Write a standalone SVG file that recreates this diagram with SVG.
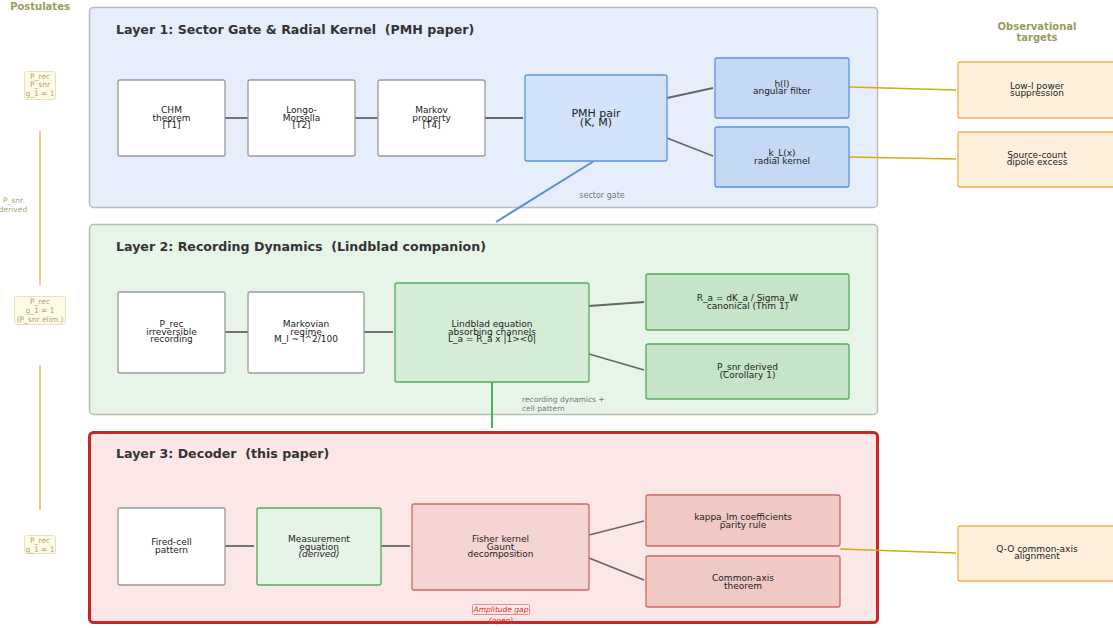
<svg xmlns="http://www.w3.org/2000/svg" width="1113" height="628" viewBox="0 0 1113 628">
<style>
text{font-family:"DejaVu Sans","Liberation Sans",sans-serif;fill:#222;}
.t{font-size:9px;text-anchor:middle;}
.title{font-size:12.6px;font-weight:bold;fill:#333;white-space:pre;}
.hdr{font-size:10px;font-weight:bold;fill:#9a9a62;text-anchor:middle;}
.post{font-size:7.5px;fill:#a8a878;text-anchor:middle;}
.small{font-size:8px;fill:#777;}
.plain{fill:#fff;stroke:#9a9a9a;stroke-width:1.3;}
.blue{fill:#d3e2fb;stroke:#5d93dc;stroke-width:1.3;}
.blue2{fill:#c5d9f5;stroke:#5d93dc;stroke-width:1.3;}
.green{fill:#d5edd7;stroke:#55aa5a;stroke-width:1.3;}
.green2{fill:#c6e5c8;stroke:#55aa5a;stroke-width:1.3;}
.green3{fill:#e6f4e6;stroke:#55aa5a;stroke-width:1.3;}
.red{fill:#f5d5d3;stroke:#d26666;stroke-width:1.3;}
.red2{fill:#f0c9c5;stroke:#d26666;stroke-width:1.3;}
.obs{fill:#fef0dc;stroke:#f0b050;stroke-width:1.3;}
.pbox{fill:#fefbe4;stroke:#e8e2bc;stroke-width:1;}
.c{stroke:#666;stroke-width:1.8;fill:none;}
.g{stroke:#d4ac10;stroke-width:1.5;fill:none;}
.y{stroke:#d8c050;stroke-width:1.5;fill:none;}
</style>

<!-- Layers -->
<g id="layer1"><rect x="89.5" y="7.5" width="788" height="200" rx="4" fill="#e7eefb" stroke="#bbbbbb" stroke-width="1.5"/>
<text class="title" x="116" y="34" xml:space="preserve">Layer 1: Sector Gate &amp; Radial Kernel  (PMH paper)</text></g>
<g id="layer2"><rect x="89.5" y="224.5" width="788" height="190" rx="4" fill="#e7f4e8" stroke="#bbbbbb" stroke-width="1.5"/>
<text class="title" x="116" y="251" xml:space="preserve">Layer 2: Recording Dynamics  (Lindblad companion)</text></g>
<g id="layer3"><rect x="89.5" y="432.5" width="788" height="190" rx="4" fill="#fce7e7" stroke="#c62828" stroke-width="3"/>
<text class="title" x="116" y="458" xml:space="preserve">Layer 3: Decoder  (this paper)</text></g>

<!-- Headers -->
<text class="hdr" x="40" y="10">Postulates</text>
<text class="hdr" x="1037" y="30">Observational</text>
<text class="hdr" x="1037" y="41">targets</text>

<!-- Connectors -->
<g id="connectors">
<line class="c" x1="225" y1="118" x2="248" y2="118"/>
<line class="c" x1="355" y1="118" x2="378" y2="118"/>
<line class="c" x1="485" y1="118" x2="523" y2="118"/>
<line class="c" x1="667" y1="98" x2="713" y2="88"/>
<line class="c" x1="667" y1="138" x2="713" y2="156"/>
<line x1="594" y1="161" x2="496" y2="222" stroke="#5b8fdc" stroke-width="2"/>
<line class="g" x1="849" y1="87" x2="956" y2="90"/>
<line class="g" x1="849" y1="157" x2="956" y2="159"/>

<line class="c" x1="225" y1="332" x2="248" y2="332"/>
<line class="c" x1="364" y1="332" x2="393" y2="332"/>
<line class="c" x1="589" y1="306" x2="644" y2="302"/>
<line class="c" x1="589" y1="354" x2="644" y2="370"/>
<line x1="492" y1="382" x2="492" y2="428" stroke="#4caf50" stroke-width="2"/>

<line class="c" x1="225" y1="546" x2="254" y2="546"/>
<line class="c" x1="381" y1="546" x2="410" y2="546"/>
<line class="c" x1="589" y1="535" x2="644" y2="521"/>
<line class="c" x1="589" y1="558" x2="644" y2="580"/>
<line class="g" x1="840" y1="549" x2="956" y2="553"/>

<line class="y" x1="40" y1="131" x2="40" y2="285"/>
<line class="y" x1="40" y1="365" x2="40" y2="510"/>
</g>
<text class="small" x="602" y="198" text-anchor="middle">sector gate</text>
<text class="small" x="522" y="402" style="font-size:7.5px">recording dynamics +</text>
<text class="small" x="522" y="411" style="font-size:7.5px">cell pattern</text>
<text class="post" x="13" y="203">P_snr</text>
<text class="post" x="13" y="212">derived</text>

<!-- Layer 1 nodes -->
<g id="chm"><rect class="plain" x="118" y="80" width="107" height="76" rx="2"/>
<text class="t" x="171.5" y="113">CHM</text><text class="t" x="171.5" y="120.5">theorem</text><text class="t" x="171.5" y="128">[T1]</text></g>
<g id="longo"><rect class="plain" x="248" y="80" width="107" height="76" rx="2"/>
<text class="t" x="301.5" y="113">Longo-</text><text class="t" x="301.5" y="120.5">Morsella</text><text class="t" x="301.5" y="128">[T2]</text></g>
<g id="markov"><rect class="plain" x="378" y="80" width="107" height="76" rx="2"/>
<text class="t" x="431.5" y="113">Markov</text><text class="t" x="431.5" y="120.5">property</text><text class="t" x="431.5" y="128">[T4]</text></g>
<g id="pmh"><rect class="blue" x="525" y="75" width="142" height="86" rx="2"/>
<text class="t" x="596" y="117" style="font-size:11px">PMH pair</text><text class="t" x="596" y="125.5" style="font-size:11px">(K, M)</text></g>
<g id="hl"><rect class="blue2" x="715" y="58" width="134" height="60" rx="2"/>
<text class="t" x="782" y="86.5">h(l)</text><text class="t" x="782" y="94">angular filter</text></g>
<g id="kl"><rect class="blue2" x="715" y="127" width="134" height="60" rx="2"/>
<text class="t" x="782" y="156">k_L(x)</text><text class="t" x="782" y="163.5">radial kernel</text></g>

<!-- Layer 2 nodes -->
<g id="prec"><rect class="plain" x="118" y="292" width="107" height="81" rx="2"/>
<text class="t" x="171.5" y="327">P_rec</text><text class="t" x="171.5" y="334.5">irreversible</text><text class="t" x="171.5" y="342">recording</text></g>
<g id="markovian"><rect class="plain" x="248" y="292" width="116" height="81" rx="2"/>
<text class="t" x="306" y="327">Markovian</text><text class="t" x="306" y="334.5">regime</text><text class="t" x="306" y="342">M_l ~ l^2/100</text></g>
<g id="lindblad"><rect class="green" x="395" y="283" width="194" height="99" rx="2"/>
<text class="t" x="492" y="327">Lindblad equation</text><text class="t" x="492" y="334.5">absorbing channels</text><text class="t" x="492" y="342">L_a = R_a x |1&gt;&lt;0|</text></g>
<g id="ra"><rect class="green2" x="646" y="274" width="203" height="56" rx="2"/>
<text class="t" x="747.5" y="301">R_a = dK_a / Sigma_W</text><text class="t" x="747.5" y="308.5">canonical (Thm 1)</text></g>
<g id="psnr"><rect class="green2" x="646" y="344" width="203" height="55" rx="2"/>
<text class="t" x="747.5" y="370">P_snr derived</text><text class="t" x="747.5" y="377.5">(Corollary 1)</text></g>

<!-- Layer 3 nodes -->
<g id="fired"><rect class="plain" x="118" y="508" width="107" height="77" rx="2"/>
<text class="t" x="171.5" y="545">Fired-cell</text><text class="t" x="171.5" y="552.5">pattern</text></g>
<g id="meas"><rect class="green3" x="257" y="508" width="124" height="77" rx="2"/>
<text class="t" x="319" y="542">Measurement</text><text class="t" x="319" y="549.5">equation</text><text class="t" x="319" y="557" font-style="italic">(derived)</text></g>
<g id="fisher"><rect class="red" x="412" y="504" width="177" height="86" rx="2"/>
<text class="t" x="500.5" y="542">Fisher kernel</text><text class="t" x="500.5" y="549.5">Gaunt</text><text class="t" x="500.5" y="557">decomposition</text></g>
<g id="kappa"><rect class="red2" x="646" y="495" width="194" height="51" rx="2"/>
<text class="t" x="743" y="520">kappa_lm coefficients</text><text class="t" x="743" y="527.5">parity rule</text></g>
<g id="common"><rect class="red2" x="646" y="556" width="194" height="51" rx="2"/>
<text class="t" x="743" y="581">Common-axis</text><text class="t" x="743" y="588.5">theorem</text></g>
<g id="ampgap"><rect x="472.5" y="604.5" width="57" height="10" rx="1" fill="#fdeaea" stroke="#e57373" stroke-width="0.8"/>
<text x="501" y="612" text-anchor="middle" font-style="italic" style="font-size:7.5px;fill:#d32f2f">Amplitude gap</text>
<text x="501" y="623" text-anchor="middle" font-style="italic" style="font-size:7.5px;fill:#d32f2f">(open)</text></g>

<!-- Observational targets -->
<g id="obs1"><rect class="obs" x="958" y="62" width="160" height="56" rx="2"/>
<text class="t" x="1037" y="88.5">Low-l power</text><text class="t" x="1037" y="96">suppression</text></g>
<g id="obs2"><rect class="obs" x="958" y="132" width="160" height="55" rx="2"/>
<text class="t" x="1037" y="157.5">Source-count</text><text class="t" x="1037" y="165">dipole excess</text></g>
<g id="obs3"><rect class="obs" x="958" y="526" width="160" height="55" rx="2"/>
<text class="t" x="1037" y="551.5">Q-O common-axis</text><text class="t" x="1037" y="559">alignment</text></g>

<!-- Postulate boxes -->
<g id="post1"><rect class="pbox" x="24.5" y="71.5" width="31" height="28" rx="2"/>
<text class="post" x="40" y="79">P_rec</text><text class="post" x="40" y="87">P_snr</text><text class="post" x="40" y="96">g_1 = 1</text></g>
<g id="post2"><rect class="pbox" x="14.5" y="296.5" width="51" height="28" rx="2"/>
<text class="post" x="40" y="304">P_rec</text><text class="post" x="40" y="313">g_1 = 1</text><text class="post" x="40" y="322">(P_snr elim.)</text></g>
<g id="post3"><rect class="pbox" x="24.5" y="535.5" width="31" height="18" rx="2"/>
<text class="post" x="40" y="543">P_rec</text><text class="post" x="40" y="552">g_1 = 1</text></g>
</svg>
